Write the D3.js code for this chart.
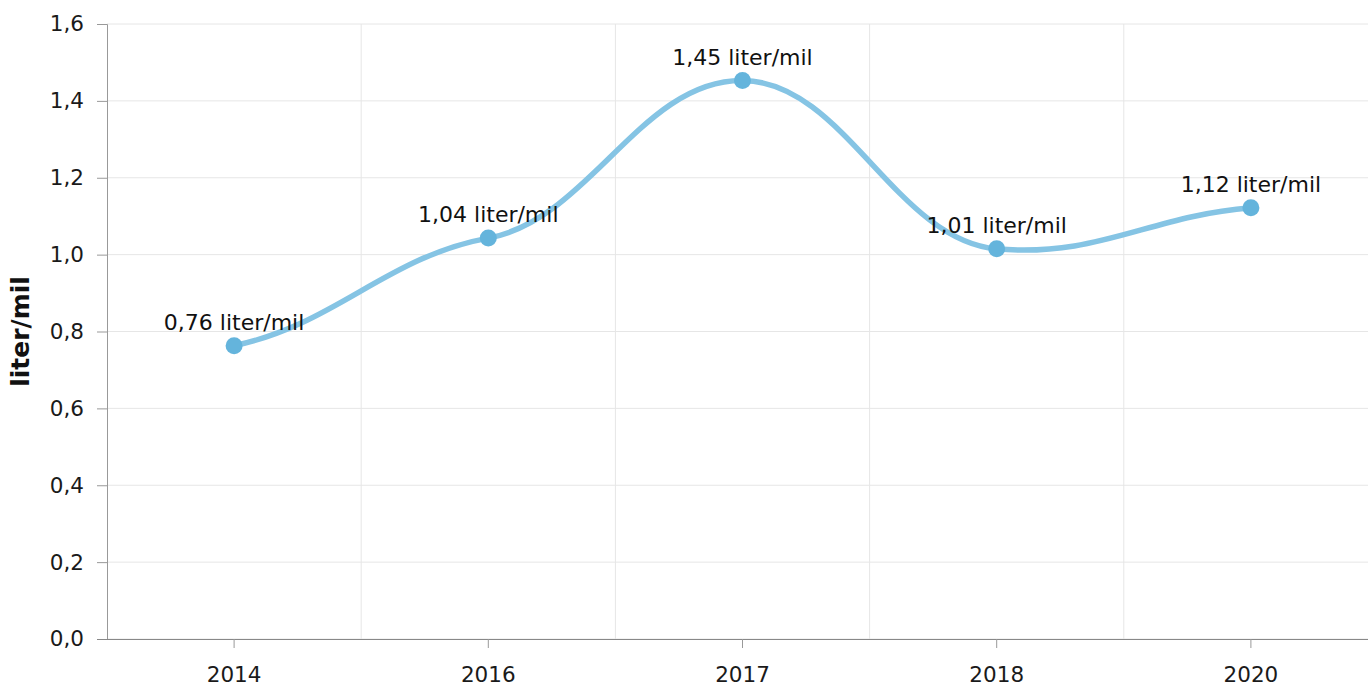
<!DOCTYPE html>
<html>
<head>
<meta charset="utf-8">
<script src="https://cdn.jsdelivr.net/npm/d3@7"></script>
<style>
  body { margin: 0; background: #fff; }
  svg { display: block; font-family: "DejaVu Sans", Verdana, sans-serif; }
</style>
</head>
<body>
<svg id="chart" width="1370" height="687"></svg>
<script>
const years = ["2014", "2016", "2017", "2018", "2020"];
const values = [0.763, 1.043, 1.453, 1.015, 1.122];
const labels = ["0,76 liter/mil", "1,04 liter/mil", "1,45 liter/mil", "1,01 liter/mil", "1,12 liter/mil"];
const yTicks = [0, 0.2, 0.4, 0.6, 0.8, 1.0, 1.2, 1.4, 1.6];

const svg = d3.select('#chart');
const margin = { top: 24, right: 2, bottom: 48, left: 107 };
const width = 1370, height = 687;
const innerW = width - margin.left - margin.right;
const innerH = height - margin.top - margin.bottom;

const fmt = v => d3.format(".1f")(v).replace('.', ',');

// the bands run a little past the right edge of the plot, like the original
const x = d3.scaleBand().domain(years).range([0, 1271]);
const y = d3.scaleLinear().domain([0, 1.6]).range([innerH, 0]);

const g = svg.append("g").attr("transform", `translate(${margin.left},${margin.top})`);

// horizontal gridlines
g.selectAll(".hgrid").data(yTicks).join("line")
  .attr("x1", 0).attr("x2", innerW)
  .attr("y1", d => y(d)).attr("y2", d => y(d))
  .attr("stroke", "#e6e6e6").attr("stroke-width", 1);

// vertical gridlines at band edges
g.selectAll(".vgrid").data(years.slice(1)).join("line")
  .attr("x1", d => x(d)).attr("x2", d => x(d))
  .attr("y1", 0).attr("y2", innerH)
  .attr("stroke", "#e6e6e6").attr("stroke-width", 1);

// y axis
const yAxis = g.append("g")
  .call(d3.axisLeft(y).tickValues(yTicks).tickFormat(fmt).tickSize(10).tickPadding(13));
yAxis.select(".domain").attr("stroke", "#999");
yAxis.selectAll(".tick line").attr("stroke", "#999");
yAxis.selectAll(".tick text").attr("font-size", 21.5).attr("fill", "#1a1a1a")
  .attr("font-family", '"DejaVu Sans", Verdana, sans-serif');

// x axis
const xAxis = g.append("g").attr("transform", `translate(0,${innerH})`)
  .call(d3.axisBottom(x).tickSizeOuter(0).tickSize(9).tickPadding(19));
xAxis.select(".domain").attr("stroke", "#888").attr("d", `M-10,0.5H${innerW}`);
xAxis.selectAll(".tick line").attr("stroke", "#999");
xAxis.selectAll(".tick text").attr("font-size", 21.5).attr("fill", "#1a1a1a")
  .attr("font-family", '"DejaVu Sans", Verdana, sans-serif');

// y title
svg.append("text")
  .attr("transform", `translate(${29},${margin.top + innerH / 2}) rotate(-90)`)
  .attr("text-anchor", "middle")
  .attr("font-size", 25).attr("font-weight", "bold").attr("fill", "#111")
  .text("liter/mil");

const cx = (d, i) => x(years[i]) + x.bandwidth() / 2;

// smoothed line: long horizontal handles, damped vertical slopes (gives the S-shapes)
function smoothPath(pts) {
  const inner = 0.35, end = 0.5, hx = 0.4;
  const slope = pts.map((p, i) => {
    const a = pts[Math.max(i - 1, 0)], b = pts[Math.min(i + 1, pts.length - 1)];
    const k = (i === 0 || i === pts.length - 1) ? end : inner;
    return k * (b[1] - a[1]) / (b[0] - a[0]);
  });
  const p = d3.path();
  p.moveTo(pts[0][0], pts[0][1]);
  for (let i = 1; i < pts.length; i++) {
    const [x0, y0] = pts[i - 1], [x1, y1] = pts[i];
    const h = (x1 - x0) * hx;
    p.bezierCurveTo(x0 + h, y0 + slope[i - 1] * h, x1 - h, y1 - slope[i] * h, x1, y1);
  }
  return p.toString();
}

g.append("path")
  .attr("d", smoothPath(values.map((v, i) => [cx(v, i), y(v)])))
  .attr("fill", "none")
  .attr("stroke", "#85c4e4")
  .attr("stroke-width", 5.5)
  .attr("stroke-linecap", "round");

// markers
g.selectAll(".pt").data(values).join("circle")
  .attr("cx", cx).attr("cy", d => y(d)).attr("r", 8.5)
  .attr("fill", "#64b4dc");

// data labels
g.selectAll(".lbl").data(values).join("text")
  .attr("x", cx).attr("y", d => y(d) - 16)
  .attr("text-anchor", "middle")
  .attr("font-size", 22).attr("fill", "#111")
  .text((d, i) => labels[i]);
</script>
</body>
</html>
